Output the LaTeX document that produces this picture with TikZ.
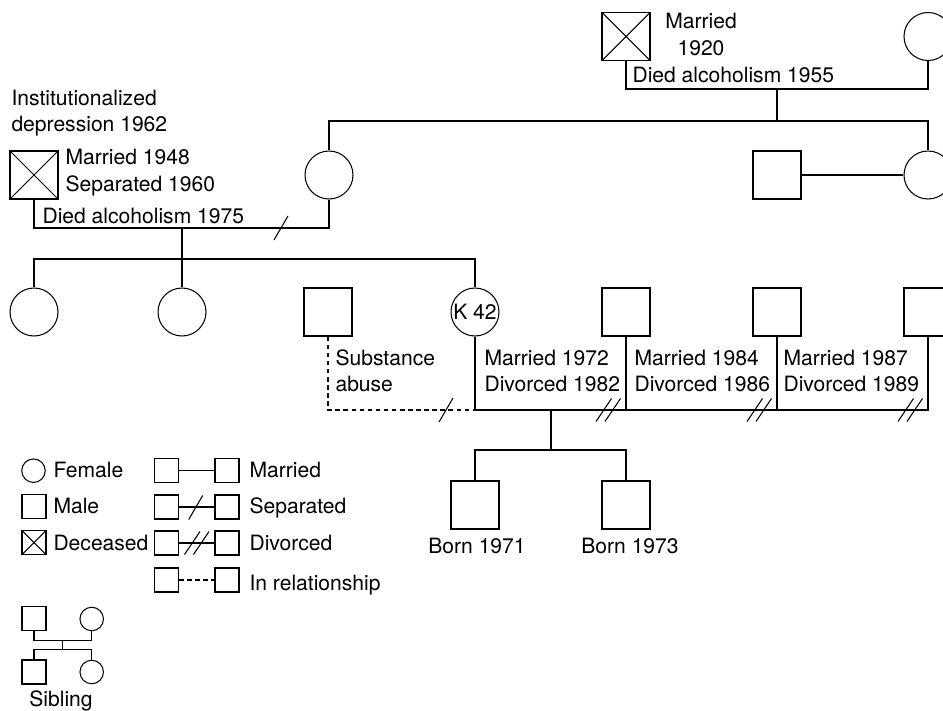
\documentclass[tikz,border=0pt]{standalone}
\usepackage{fontspec}
\setmainfont{TeX Gyre Heros}
\usetikzlibrary{positioning}

\tikzset{
  female/.style={circle, draw, minimum size=0.96cm, inner sep=0pt},
  male/.style={rectangle, draw, minimum size=0.96cm, inner sep=0pt},
  dead/.style={male, path picture={
      \draw (path picture bounding box.south west) -- (path picture bounding box.north east)
            (path picture bounding box.north west) -- (path picture bounding box.south east);}},
  keyfemale/.style={female, minimum size=0.47cm},
  keymale/.style={male, minimum size=0.48cm},
  keydead/.style={dead, minimum size=0.48cm},
  lbl/.style={anchor=base west, inner sep=0pt},
  clbl/.style={anchor=base, inner sep=0pt},
  partner/.style={dash pattern=on 2.6pt off 2pt}
}
\newcommand{\sepmark}[1]{\draw (#1) ++(-7,12) -- ++(14,-24);}
\newcommand{\divmark}[1]{\draw (#1) ++(-12,11.5) -- ++(15.5,-23) ++(-6.5,23) -- ++(15.5,-23);}

\begin{document}
\begin{tikzpicture}[x=0.02cm, y=-0.02cm, line width=0.6pt, font=\fontsize{12}{14}\selectfont]
\useasboundingbox (0,0) rectangle (943,710);

% grandparents
\node[dead] (G1) at (626,36.5) {};
\node[female] (G2) at (928,36.5) {};
\node[clbl] (g1a) at (701,29) {Married};
\node[clbl] (g1b) at (701,55.5) {1920};
\node[lbl] (g1c) at (632,82) {Died alcoholism 1955};
\coordinate (gp) at (777,89);
\coordinate (gs) at (777,121);
\draw (G1.south) |- (gp) -| (G2.south);
\draw (gp) -- (gs);

% parents and aunt
\node[dead] (F1) at (34,175) {};
\node[female] (M1) at (329,175) {};
\node[male] (U1) at (777,175) {};
\node[female] (A1) at (928,175) {};
\draw (M1.north) |- (gs) -| (A1.north);
\draw (U1.east) -- (A1.west);
\node[lbl] (f1a) at (11,105.5) {Institutionalized};
\node[lbl] (f1b) at (11,131.5) {depression 1962};
\node[lbl] (f1c) at (65,164) {Married 1948};
\node[lbl] (f1d) at (65,191) {Separated 1960};
\node[lbl] (f1e) at (42,223.5) {Died alcoholism 1975};
\coordinate (pp) at (182,228);
\coordinate (ps) at (182,259);
\draw (F1.south) |- (pp) -| (M1.south);
\sepmark{281,228}

% children
\node[female] (C1) at (34,312) {};
\node[female] (C2) at (182,312) {};
\node[male] (P0) at (328,312) {};
\node[female] (K1) at (475,312) {K 42};
\node[male] (H1) at (626,312) {};
\node[male] (H2) at (777,312) {};
\node[male] (H3) at (928,312) {};
\draw (C1.north) |- (ps) -| (K1.north);
\draw (pp) -- (C2.north);

% relationships of K 42
\coordinate (k0) at (475,410);
\coordinate (kc) at (551,410);
\coordinate (ks) at (551,450);
\draw (K1.south) -- (k0) -- (k0 -| H3.south) -- (H3.south);
\draw (H1.south) -- (H1.south |- k0);
\draw (H2.south) -- (H2.south |- k0);
\draw[partner] (P0.south) |- (k0);
\sepmark{446,410}
\divmark{608,410}
\divmark{759,410}
\divmark{910,410}
\node[lbl] (p0a) at (335,365) {Substance};
\node[lbl] (p0b) at (335,391) {abuse};
\node[lbl] (h1a) at (484,365) {Married 1972};
\node[lbl] (h1b) at (484,391) {Divorced 1982};
\node[lbl] (h2a) at (634,365) {Married 1984};
\node[lbl] (h2b) at (634,391) {Divorced 1986};
\node[lbl] (h3a) at (783,365) {Married 1987};
\node[lbl] (h3b) at (783,391) {Divorced 1989};

% grandchildren
\node[male] (S1) at (475,505) {};
\node[male] (S2) at (626,505) {};
\draw (kc) -- (ks);
\draw (S1.north) |- (ks) -| (S2.north);
\node[clbl] (s1a) at (477,553) {Born 1971};
\node[clbl] (s2a) at (630,553) {Born 1973};

% key
\node[keyfemale] (kf) at (33.5,470.7) {};
\node[keymale] (km) at (34,506.5) {};
\node[keydead] (kd) at (34,542.5) {};
\node[lbl] (kfl) at (53,477.5) {Female};
\node[lbl] (kml) at (53,513) {Male};
\node[lbl] (kdl) at (53,550) {Deceased};

\node[keymale] (ka1) at (166.5,470.7) {};
\node[keymale] (kb1) at (227,470.7) {};
\node[keymale] (ka2) at (166.5,507) {};
\node[keymale] (kb2) at (227,507) {};
\node[keymale] (ka3) at (166.5,543) {};
\node[keymale] (kb3) at (227,543) {};
\node[keymale] (ka4) at (166.5,580) {};
\node[keymale] (kb4) at (227,580) {};
\draw (ka1) -- (kb1);
\draw (ka2) -- (kb2);
\draw (ka3) -- (kb3);
\draw[partner] (ka4) -- (kb4);
\sepmark{195.7,507.5}
\divmark{196.5,543}
\node[lbl] (kl1) at (249,477) {Married};
\node[lbl] (kl2) at (249,513) {Separated};
\node[lbl] (kl3) at (249,550) {Divorced};
\node[lbl] (kl4) at (249,590) {In relationship};

% sibling key
\node[keymale] (q1) at (34,618.7) {};
\node[keyfemale] (q2) at (91.7,619) {};
\node[keymale] (q3) at (34,672) {};
\node[keyfemale] (q4) at (91.7,672) {};
\coordinate (qp) at (62.7,640.7);
\coordinate (qs) at (62.7,649.3);
\draw (q1.south) |- (qp) -| (q2.south);
\draw (qp) -- (qs);
\draw (q3.north) |- (qs) -| (q4.north);
\node[clbl] (ql) at (61,706) {Sibling};

\end{tikzpicture}
\end{document}
